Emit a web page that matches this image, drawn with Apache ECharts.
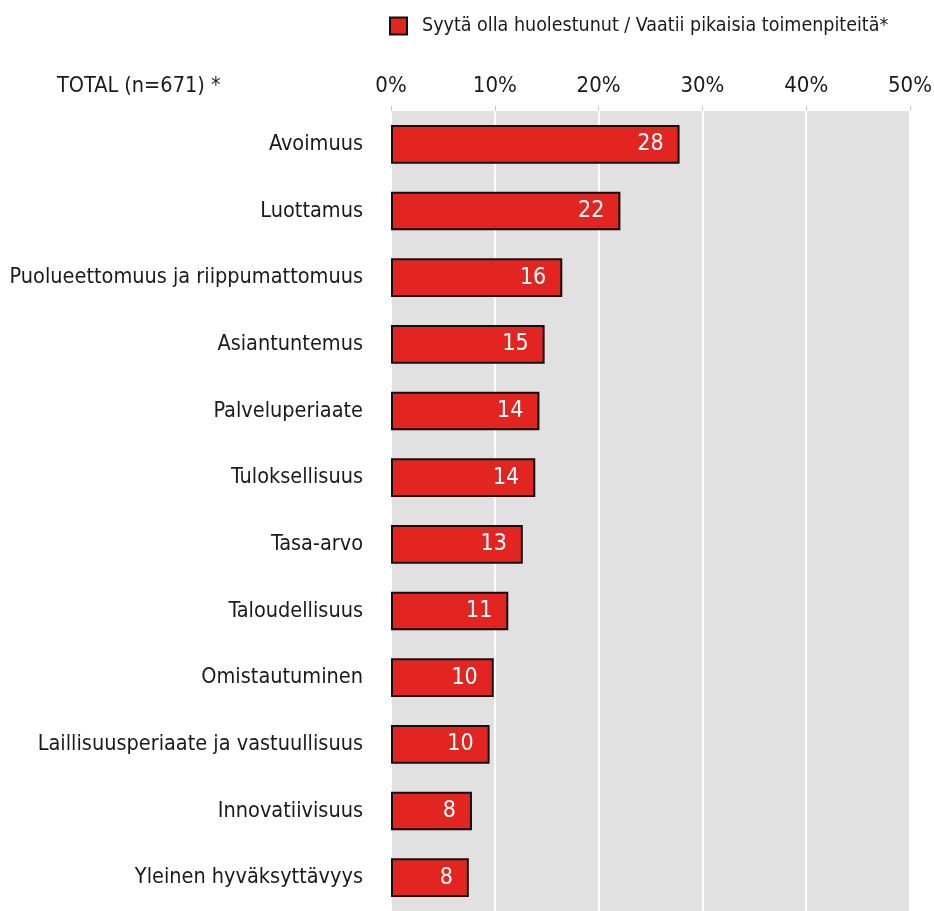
<!DOCTYPE html>
<html>
<head>
<meta charset="utf-8">
<script src="https://cdn.jsdelivr.net/npm/echarts@6/dist/echarts.min.js"></script>
<style>
  html, body { margin: 0; padding: 0; background: #fff; }
  #main { width: 934px; height: 911px; }
</style>
</head>
<body>
<div id="main"></div>
<script>
// kategoriat ylhäältä alas
var categories = ['Avoimuus', 'Luottamus', 'Puolueettomuus ja riippumattomuus', 'Asiantuntemus',
    'Palveluperiaate', 'Tuloksellisuus', 'Tasa-arvo', 'Taloudellisuus', 'Omistautuminen',
    'Laillisuusperiaate ja vastuullisuus', 'Innovatiivisuus', 'Yleinen hyväksyttävyys'];
// palkkien pituudet (%), luettu kuvasta
var values = [27.8, 22.1, 16.5, 14.8, 14.3, 13.9, 12.7, 11.3, 9.9, 9.5, 7.8, 7.5];
// palkkien sisällä näkyvät luvut
var labels = ['28', '22', '16', '15', '14', '14', '13', '11', '10', '10', '8', '8'];
var seriesName = 'Syytä olla huolestunut / Vaatii pikaisia toimenpiteitä*';

var font = '"DejaVu Sans Condensed", sans-serif';

var myChart = echarts.init(document.getElementById('main'));
var option = {
    animation: false,
    textStyle: { fontFamily: font },
    title: {
        text: 'TOTAL (n=671) *',
        left: 52,
        top: 70,
        textStyle: { fontFamily: font, fontSize: 21.5, fontWeight: 'normal', color: '#1a1a1a' }
    },
    legend: {
        left: 389,
        top: 16,
        padding: 0,
        icon: 'rect',
        itemWidth: 17,
        itemHeight: 17,
        itemGap: 10,
        textStyle: { fontFamily: font, fontSize: 19.5, color: '#1a1a1a', padding: [0, 0, 0, 10] },
        data: [seriesName]
    },
    grid: {
        left: 391,
        right: 24,
        top: 111,
        bottom: 0,
        outerBoundsMode: 'none',
        containLabel: false,
        show: true,
        backgroundColor: '#e1e1e1',
        borderWidth: 0
    },
    xAxis: {
        type: 'value',
        position: 'top',
        min: 0,
        max: 50,
        interval: 10,
        axisLine: { show: false },
        axisTick: { show: true, length: 5, lineStyle: { color: '#c8c8c8' } },
        axisLabel: {
            formatter: '{value}%',
            fontFamily: font,
            fontSize: 22,
            color: '#1a1a1a',
            margin: 14
        },
        splitLine: { show: true, lineStyle: { color: '#ffffff', width: 2 } }
    },
    yAxis: {
        type: 'category',
        inverse: true,
        data: categories,
        axisLine: { show: false },
        axisTick: { show: false },
        axisLabel: {
            fontFamily: font,
            fontSize: 21.5,
            color: '#1a1a1a',
            margin: 28
        }
    },
    series: [
        {
            name: seriesName,
            type: 'bar',
            data: values,
            barCategoryGap: '42%',
            itemStyle: { color: '#e32522', borderColor: '#111', borderWidth: 2 },
            label: {
                show: true,
                position: 'insideRight',
                distance: 16,
                fontFamily: font,
                fontSize: 23,
                color: '#ffffff',
                formatter: function (params) {
                    return labels[params.dataIndex];
                }
            }
        }
    ]
};
myChart.setOption(option);
</script>
</body>
</html>
